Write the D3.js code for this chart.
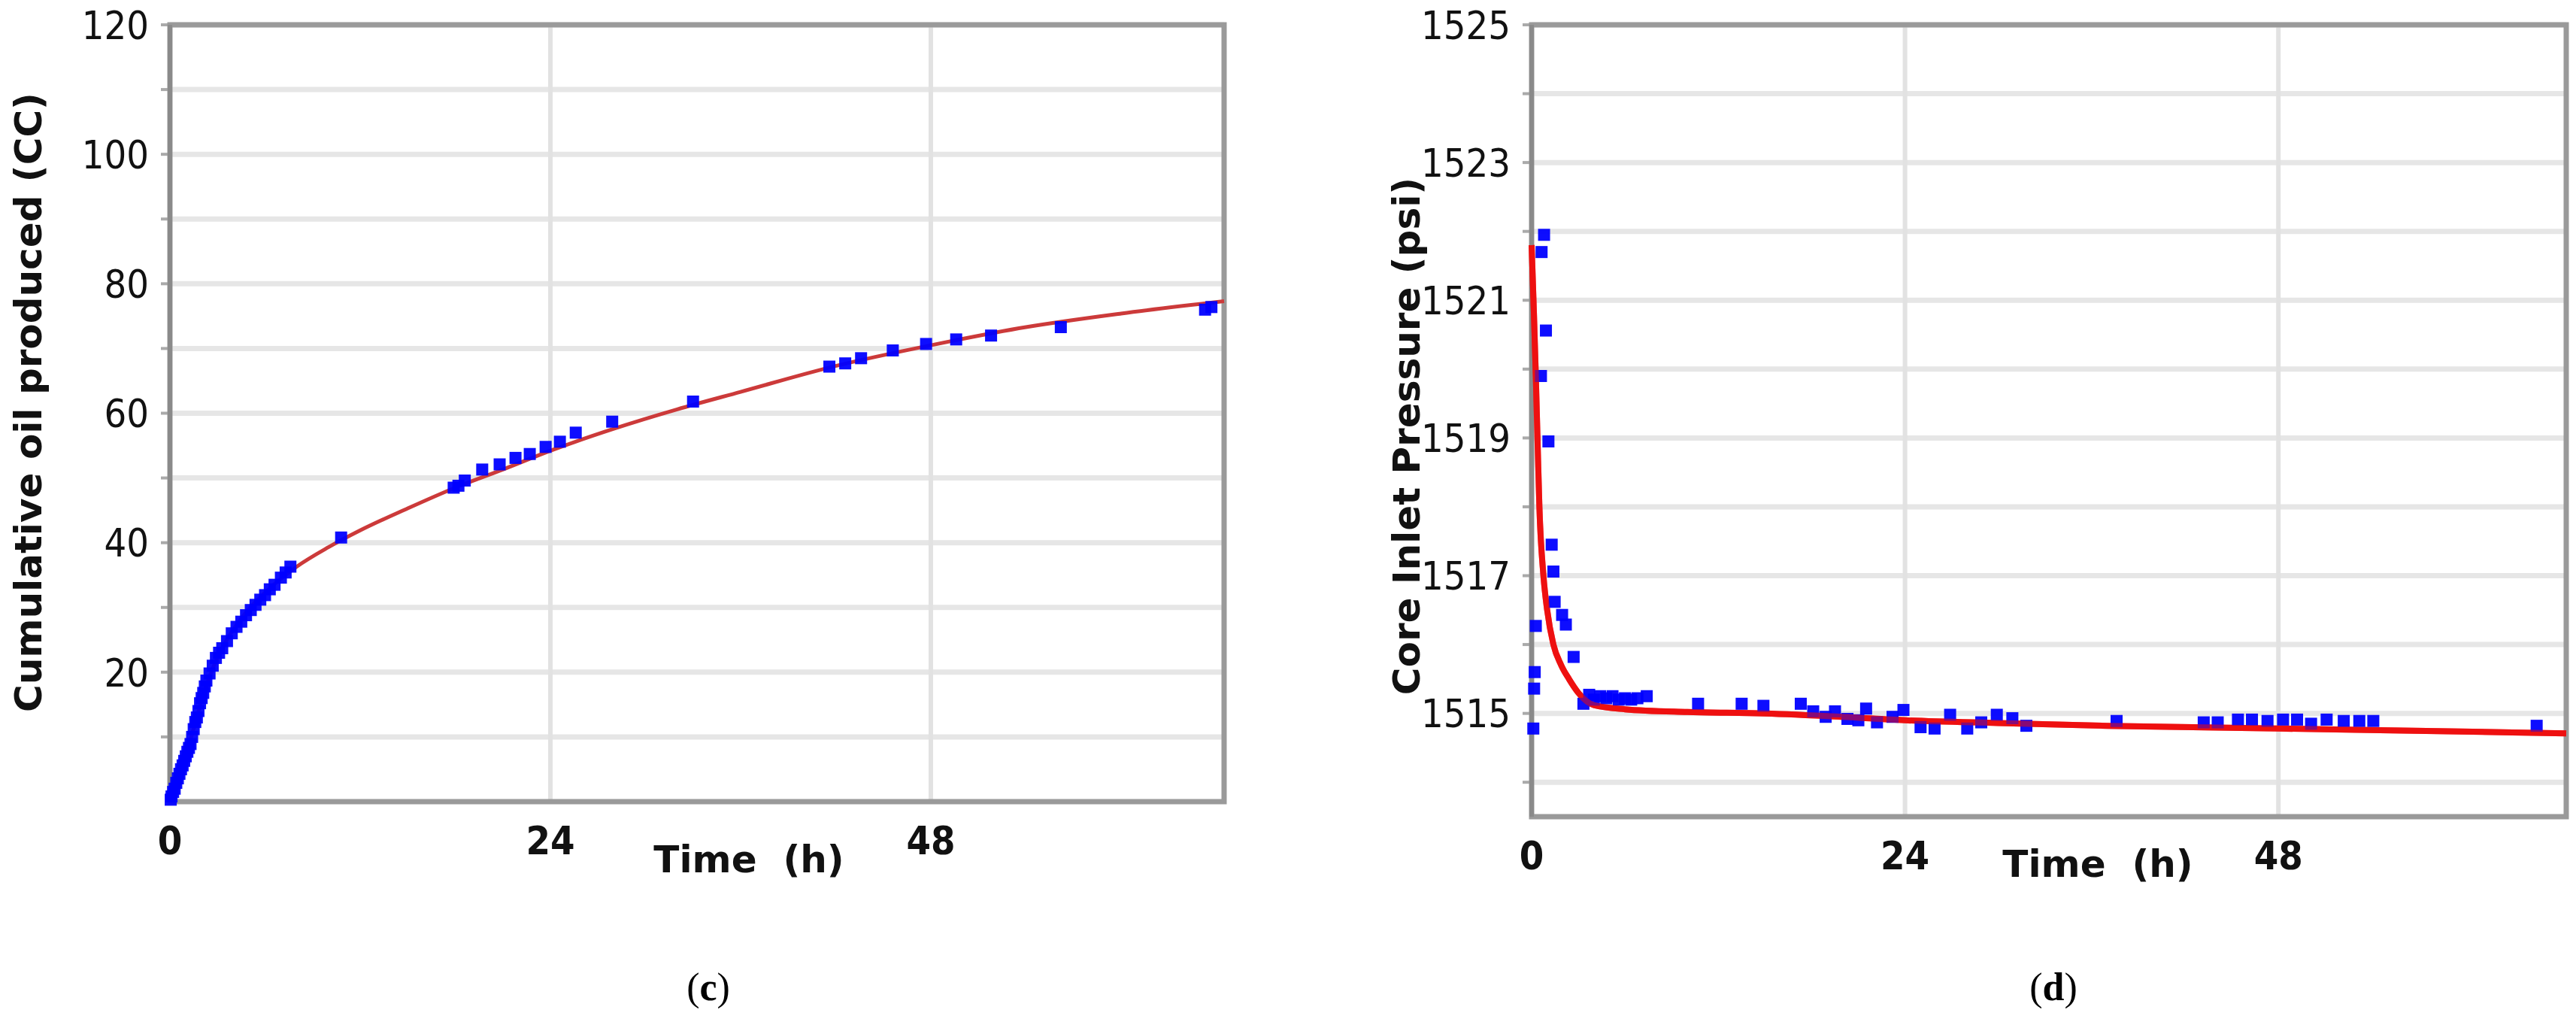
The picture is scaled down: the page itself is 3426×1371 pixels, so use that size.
<!DOCTYPE html>
<html><head><meta charset="utf-8">
<script src="https://cdn.jsdelivr.net/npm/d3@7"></script>
<style>body{margin:0;background:#fff}</style></head>
<body><svg id="c" width="3426" height="1371"></svg>
<script>
// Panel (c): cumulative oil produced
const oilTime = [0.05,0.1,0.2,0.3,0.4,0.5,0.6,0.7,0.8,0.9,1.0,1.1,1.2,1.3,1.4,1.5,1.6,1.7,1.8,1.9,2.0,2.1,2.2,2.3,2.5,2.7,2.9,3.1,3.3,3.6,3.9,4.2,4.5,4.8,5.1,5.4,5.7,6.0,6.3,6.6,7.0,7.3,7.6,10.8,17.9,18.2,18.6,19.7,20.8,21.8,22.7,23.7,24.6,25.6,27.9,33.0,41.6,42.6,43.6,45.6,47.7,49.6,51.8,56.2,65.3,65.7];
const oilValue = [0.3,0.8,1.5,2.0,2.9,3.6,4.3,5.0,5.6,6.3,7.0,7.7,8.3,8.9,10.0,11.2,12.3,13.0,14.0,15.2,16.0,16.8,17.8,18.7,19.8,21.0,22.2,23.0,23.7,24.8,26.0,27.0,27.8,28.8,29.6,30.4,31.2,31.9,32.8,33.5,34.6,35.4,36.3,40.8,48.5,48.8,49.6,51.3,52.1,53.1,53.7,54.8,55.6,57.0,58.7,61.8,67.2,67.7,68.5,69.7,70.7,71.4,72.0,73.3,76.0,76.4];
const oilFitTime = [0,0.5,1,1.5,2,2.5,3,4,5,6,8,10,12,15,18,21,24,28,32,36,42,48,54,60,66.5];
const oilFitValue = [0,3.5,7.2,11.3,15.6,19.3,22.3,26.6,29.8,32.3,36.3,39.3,41.9,45.3,48.5,51.3,54.2,57.6,60.6,63.3,67.3,70.5,73.3,75.4,77.3];
const oilYTicks = [20,40,60,80,100,120];
const oilYGrid = [10,20,30,40,50,60,70,80,90,100,110,120];

// Panel (d): core inlet pressure
const presTime = [0.11,0.16,0.2,0.27,0.6,0.64,0.8,0.92,1.08,1.29,1.4,1.48,1.96,2.2,2.7,3.33,3.7,4.0,4.4,4.8,5.2,5.6,6.0,6.4,6.8,7.4,10.7,13.5,14.9,17.3,18.1,18.9,19.5,20.3,21.0,21.5,22.2,23.2,23.9,25.0,25.9,26.9,28.0,28.9,29.9,30.9,31.8,37.6,43.2,44.1,45.4,46.3,47.3,48.3,49.2,50.1,51.1,52.2,53.2,54.1,64.6];
const presValue = [1514.78,1515.36,1515.6,1516.27,1519.9,1521.7,1521.95,1520.56,1518.95,1517.45,1517.06,1516.62,1516.43,1516.29,1515.82,1515.14,1515.27,1515.2,1515.25,1515.22,1515.25,1515.2,1515.22,1515.2,1515.22,1515.25,1515.14,1515.14,1515.11,1515.14,1515.03,1514.95,1515.03,1514.92,1514.9,1515.07,1514.87,1514.95,1515.05,1514.8,1514.78,1514.98,1514.78,1514.87,1514.98,1514.93,1514.82,1514.89,1514.87,1514.87,1514.91,1514.91,1514.89,1514.91,1514.91,1514.85,1514.91,1514.89,1514.89,1514.89,1514.82];
const presFitTime = [0,0.15,0.27,0.4,0.5,0.76,1.0,1.4,1.9,2.4,3,4,6,10,15,20,24,30,37,48,56,66.5];
const presFitValue = [1521.8,1520.8,1519.9,1518.8,1518.0,1517.0,1516.5,1516.0,1515.7,1515.5,1515.3,1515.12,1515.06,1515.02,1515.0,1514.95,1514.9,1514.86,1514.82,1514.78,1514.75,1514.71];
const presYTicks = [1515,1517,1519,1521,1523,1525];
const presYGrid = [1514,1515,1516,1517,1518,1519,1520,1521,1522,1523,1524,1525];

const xTicks = [0,24,48];
const svg = d3.select('#c');

function panel(o){
  const x = d3.scaleLinear().domain([0,66.5]).range([o.l,o.r]);
  const y = d3.scaleLinear().domain(o.yd).range([o.b,o.t]);
  const g = svg.append('g');
  g.selectAll('.hg').data(o.grid).join('line')
    .attr('x1',o.l).attr('x2',o.r).attr('y1',d=>y(d)).attr('y2',d=>y(d))
    .attr('stroke','#e6e6e6').attr('stroke-width',7);
  g.selectAll('.tk').data(o.grid).join('line')
    .attr('x1',o.l-12).attr('x2',o.l).attr('y1',d=>y(d)).attr('y2',d=>y(d))
    .attr('stroke','#aaa').attr('stroke-width',4);
  g.selectAll('.vg').data([24,48]).join('line')
    .attr('x1',d=>x(d)).attr('x2',d=>x(d)).attr('y1',o.t).attr('y2',o.b)
    .attr('stroke','#e2e2e2').attr('stroke-width',6);
  g.append('rect').attr('x',o.l).attr('y',o.t).attr('width',o.r-o.l).attr('height',o.b-o.t)
    .attr('fill','none').attr('stroke','#9a9a9a').attr('stroke-width',7);
  g.append('line').attr('x1',o.l).attr('x2',o.l).attr('y1',o.t).attr('y2',o.b).attr('stroke','#8a8a8a').attr('stroke-width',6);
  const pts = o.ft.map((t,i)=>[t,o.fv[i]]);
  g.append('path').attr('d',d3.line().x(d=>x(d[0])).y(d=>y(d[1])).curve(d3.curveMonotoneX)(pts))
    .attr('fill','none').attr('stroke',o.lc).attr('stroke-width',o.lw);
  const dp = o.dt.map((t,i)=>[t,o.dv[i]]);
  const s = o.ms;
  g.selectAll('.p').data(dp).join('rect')
    .attr('x',d=>x(d[0])-s/2).attr('y',d=>y(d[1])-s/2).attr('width',s).attr('height',s)
    .attr('fill','#0000ff').attr('opacity',0.95);
  if(o.lineOnTop){
    g.append('path').attr('d',d3.line().x(d=>x(d[0])).y(d=>y(d[1])).curve(d3.curveMonotoneX)(pts))
      .attr('fill','none').attr('stroke',o.lc).attr('stroke-width',o.lw).attr('opacity',0.55);
  }
  g.selectAll('.yl').data(o.yt).join('text')
    .attr('x',o.l-28).attr('y',d=>y(d)).attr('dy','0.36em').attr('text-anchor','end')
    .attr('font-family','Liberation Sans Narrow, DejaVu Sans Condensed, Liberation Sans, sans-serif')
    .attr('font-size',52).attr('fill','#111').text(d=>d);
  g.selectAll('.xl').data(xTicks).join('text')
    .attr('x',d=>x(d)).attr('y',o.b+70).attr('text-anchor','middle')
    .attr('font-family','Liberation Sans Narrow, DejaVu Sans Condensed, Liberation Sans, sans-serif')
    .attr('font-size',52).attr('fill','#111').attr('font-weight','bold').text(d=>d);
  g.append('text').attr('x',o.xtx).attr('y',o.xty).attr('text-anchor','middle')
    .attr('font-family','DejaVu Sans, sans-serif').attr('font-weight','bold').attr('font-size',50)
    .attr('fill','#111').attr('xml:space','preserve').text('Time  (h)');
  g.append('text').attr('transform',`translate(${o.ytx},${o.yty}) rotate(-90)`).attr('text-anchor','middle')
    .attr('font-family','DejaVu Sans, sans-serif').attr('font-weight','bold').attr('font-size',o.yfs)
    .attr('fill','#111').text(o.ytitle);
  const lab = g.append('text').attr('x',o.lx).attr('y',1330).attr('text-anchor','middle')
    .attr('font-family','Liberation Serif, serif').attr('font-size',52).attr('fill','#000');
  lab.append('tspan').text('(');
  lab.append('tspan').attr('font-weight','bold').text(o.letter);
  lab.append('tspan').text(')');
}

panel({l:226,r:1628,t:33,b:1066,yd:[0,120],grid:oilYGrid,yt:oilYTicks,
  dt:oilTime,dv:oilValue,ft:oilFitTime,fv:oilFitValue,lc:'#cc3a3a',lw:5,ms:16,
  xtx:996,xty:1160,ytx:55,yty:535,yfs:50,ytitle:'Cumulative oil produced (CC)',lx:942,letter:'c'});
panel({l:2037,r:3413,t:33,b:1086,yd:[1513.5,1525],grid:presYGrid,yt:presYTicks,
  dt:presTime,dv:presValue,ft:presFitTime,fv:presFitValue,lc:'#ee1111',lw:8,ms:16,lineOnTop:true,
  xtx:2790,xty:1166,ytx:1888,yty:580,yfs:50,ytitle:'Core Inlet Pressure (psi)',lx:2731,letter:'d'});
</script></body></html>
